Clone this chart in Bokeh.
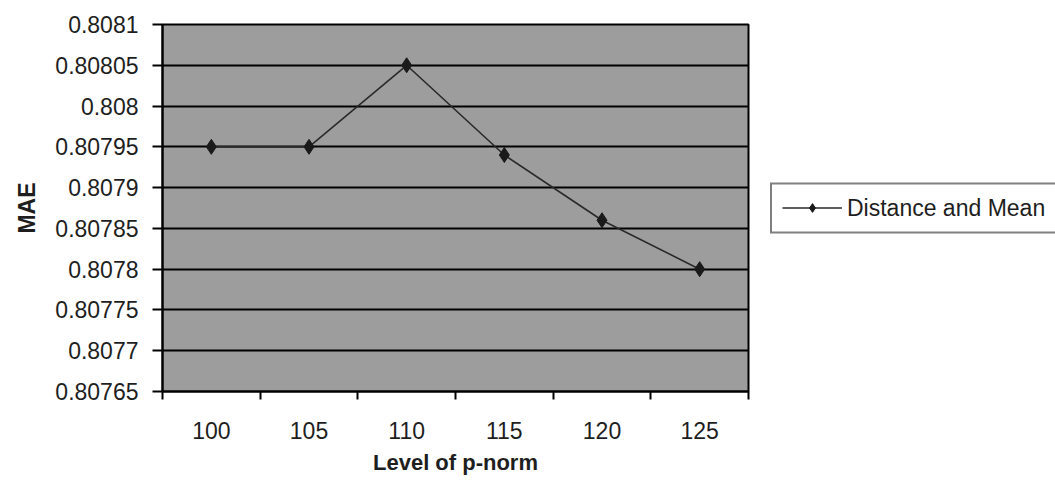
from bokeh.plotting import figure
from bokeh.models import FixedTicker, CustomJSTickFormatter, Range1d, Legend, LegendItem, ColumnDataSource
from bokeh.embed import file_html
from bokeh.resources import INLINE

categories = ["100", "105", "110", "115", "120", "125"]
mae_values = [0.80795, 0.80795, 0.80805, 0.80794, 0.80786, 0.80780]
y_ticks = [0.80765, 0.8077, 0.80775, 0.8078, 0.80785, 0.8079, 0.80795, 0.808, 0.80805, 0.8081]
series_name = "Distance and Mean"

xs = [i + 0.5 for i in range(len(categories))]
src = ColumnDataSource(dict(x=xs, y=mae_values))

FONT = "Liberation Sans"
TXT = "#1e1e1e"

p = figure(frame_width=586, frame_height=367, output_backend="svg", toolbar_location=None,
           x_range=Range1d(0, len(categories)), y_range=Range1d(y_ticks[0], y_ticks[-1]),
           min_border_left=162, min_border_right=0, min_border_top=24, min_border_bottom=91)

p.background_fill_color = "#9d9d9d"
p.border_fill_color = "white"
p.outline_line_color = "black"
p.outline_line_width = 2

p.xgrid.visible = False
p.ygrid.grid_line_color = "black"
p.ygrid.grid_line_width = 2
p.ygrid.grid_line_alpha = 1.0

# y axis
p.yaxis.ticker = FixedTicker(ticks=y_ticks, minor_ticks=[])
p.yaxis.formatter = CustomJSTickFormatter(code="return parseFloat(tick.toFixed(5)).toString();")
p.yaxis.axis_label = "MAE"
p.yaxis.axis_label_text_font = FONT
p.yaxis.axis_label_text_font_style = "bold"
p.yaxis.axis_label_text_font_size = "23px"
p.yaxis.axis_label_text_color = TXT
p.yaxis.axis_label_standoff = 12
p.yaxis.major_label_text_font = FONT
p.yaxis.major_label_text_font_size = "23px"
p.yaxis.major_label_text_color = TXT
p.yaxis.major_label_standoff = 14
p.yaxis.major_tick_out = 10
p.yaxis.major_tick_in = 0
p.yaxis.major_tick_line_width = 2
p.yaxis.axis_line_width = 2
p.yaxis.axis_line_color = "black"

# x axis
p.xaxis.ticker = FixedTicker(ticks=xs, minor_ticks=list(range(len(categories) + 1)))
p.xaxis.formatter = CustomJSTickFormatter(args=dict(labels=categories),
                                          code="return labels[Math.round(tick - 0.5)];")
p.xaxis.axis_label = "Level of p-norm"
p.xaxis.axis_label_text_font = FONT
p.xaxis.axis_label_text_font_style = "bold"
p.xaxis.axis_label_text_font_size = "22px"
p.xaxis.axis_label_text_color = TXT
p.xaxis.axis_label_standoff = 8
p.xaxis.major_label_text_font = FONT
p.xaxis.major_label_text_font_size = "23px"
p.xaxis.major_label_text_color = TXT
p.xaxis.major_label_standoff = 22
p.xaxis.major_tick_out = 0
p.xaxis.major_tick_in = 0
p.xaxis.minor_tick_out = 8
p.xaxis.minor_tick_in = 0
p.xaxis.minor_tick_line_width = 2
p.xaxis.minor_tick_line_color = "black"
p.xaxis.axis_line_width = 2
p.xaxis.axis_line_color = "black"

ln = p.line("x", "y", source=src, line_color="#2a2a2a", line_width=1.6)
sc = p.scatter("x", "y", source=src, marker="diamond", size=15, fill_color="#1a1a1a",
               line_color="#1a1a1a")

legend = Legend(items=[LegendItem(label=series_name, renderers=[ln, sc])],
                location="center_left", orientation="vertical",
                margin=22, padding=10, spacing=0,
                glyph_width=60, glyph_height=22, label_height=22, label_width=200,
                label_standoff=5,
                label_text_font=FONT, label_text_font_size="23px", label_text_color=TXT,
                border_line_color="black", border_line_width=2,
                background_fill_color="white", background_fill_alpha=1.0)
p.add_layout(legend, "right")

open("out.html", "w").write(file_html(p, INLINE))
